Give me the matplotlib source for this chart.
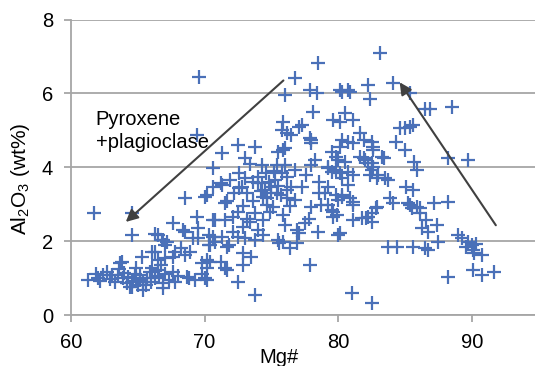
import matplotlib
matplotlib.use("Agg")
import matplotlib.pyplot as plt

plt.rcParams["font.family"] = ["Liberation Sans", "DejaVu Sans"]
plt.rcParams["mathtext.fontset"] = "custom"
plt.rcParams["mathtext.rm"] = "Liberation Sans"
plt.rcParams["mathtext.default"] = "regular"

# Mg# and Al2O3 (wt%), 10 points per row
mg = [
    61.3, 62.0, 62.4, 62.7, 63.1, 63.5, 63.9, 64.3, 64.6, 64.6,
    64.9, 65.2, 65.4, 65.7, 65.9, 66.3, 66.5, 66.9, 67.3, 67.8,
    67.6, 68.8, 70.0, 66.1, 66.7, 64.9, 63.8, 65.3, 66.3, 66.5,
    67.0, 67.6, 67.8, 68.2, 68.5, 68.9, 69.8, 70.2, 64.4, 65.4,
    66.9, 68.7, 70.2, 63.7, 66.1, 62.2, 62.9, 63.3, 64.0, 64.8,
    65.0, 65.6, 66.0, 65.2, 64.2, 66.6, 67.0, 68.0, 69.3, 69.8,
    61.9, 63.6, 64.6, 66.3, 66.8, 67.0, 68.5, 69.1, 69.5, 70.3,
    70.4, 66.5, 66.9, 67.2, 67.6, 68.4, 69.4, 70.6, 70.8, 71.2,
    71.5, 70.4, 69.5, 71.7, 68.5, 70.2, 70.6, 71.3, 71.5, 61.7,
    64.6, 69.6, 69.4, 71.3, 72.5, 73.8, 73.0, 73.4, 72.6, 74.3,
    75.4, 75.9, 76.0, 76.8, 78.0, 78.0, 79.5, 79.8, 80.1, 70.6,
    70.0, 71.2, 71.7, 72.8, 73.2, 74.0, 74.3, 74.5, 74.4, 74.7,
    75.0, 75.1, 74.9, 75.4, 76.2, 76.5, 76.2, 76.8, 77.3, 78.0,
    77.5, 78.5, 77.1, 75.5, 79.2, 79.0, 79.5, 79.6, 80.0, 80.0,
    80.3, 71.5, 72.1, 72.5, 72.9, 73.4, 73.8, 74.4, 74.0, 73.8,
    74.4, 70.8, 70.6, 71.3, 72.1, 72.5, 73.0, 70.3, 71.8, 75.8,
    76.2, 74.0, 74.7, 75.0, 75.3, 74.8, 75.5, 75.2, 74.6, 75.7,
    74.2, 73.6, 73.0, 72.2, 71.9, 72.9, 73.6, 75.9, 76.4, 73.2,
    72.6, 80.7, 81.1, 79.9, 75.6, 75.9, 76.4, 76.9, 77.9, 72.5,
    73.8, 81.0, 72.9, 73.5, 71.7, 70.2, 72.9, 78.5, 76.8, 76.0,
    77.9, 78.4, 80.3, 80.9, 78.1, 79.6, 80.1, 80.5, 81.1, 75.9,
    75.8, 76.2, 77.1, 77.3, 77.9, 80.3, 80.7, 81.1, 76.0, 75.5,
    79.8, 78.3, 79.2, 76.5, 78.0, 82.4, 84.6, 85.4, 84.3, 85.0,
    85.7, 85.9, 81.6, 81.9, 82.5, 82.6, 83.4, 80.0, 80.5, 81.9,
    82.2, 82.6, 79.2, 79.5, 80.1, 80.7, 81.1, 80.3, 82.5, 83.0,
    83.5, 78.6, 79.8, 80.3, 80.9, 81.1, 83.9, 84.1, 85.1, 85.6,
    85.4, 85.9, 86.1, 82.9, 82.5, 82.1, 81.8, 79.6, 79.2, 78.7,
    83.1, 84.1, 82.2, 80.1, 80.7, 85.4, 86.5, 86.9, 88.5, 85.0,
    85.6, 88.2, 89.7, 82.6, 83.3, 81.6, 82.0, 82.5, 82.4, 82.9,
    83.7, 85.2, 85.5, 86.1, 82.8, 82.2, 81.1, 82.5, 86.6, 86.3,
    86.7, 87.4, 87.2, 88.2, 83.7, 84.4, 85.6, 86.5, 86.7, 87.5,
    89.0, 89.3, 89.7, 90.0, 90.1, 90.2, 90.8, 89.6, 90.3, 90.1,
    90.8, 91.7, 88.2, 82.5, 80.1, 76.9, 76.0, 77.8, 78.6, 77.6,
]
al2o3 = [
    0.95, 1.0, 1.08, 1.16, 1.08, 1.08, 1.0, 1.03, 0.89, 0.76,
    1.0, 1.08, 0.89, 1.0, 1.16, 1.0, 1.22, 0.73, 0.95, 0.89,
    1.16, 1.0, 1.0, 1.27, 1.35, 1.27, 1.43, 1.57, 1.7, 1.49,
    1.54, 1.57, 1.7, 1.81, 1.62, 1.7, 1.41, 1.27, 0.76, 0.68,
    0.86, 1.03, 0.95, 1.4, 1.7, 0.92, 0.98, 0.9, 1.15, 1.12,
    0.82, 0.8, 0.9, 0.95, 0.88, 1.05, 1.1, 1.05, 0.95, 1.12,
    1.1, 1.25, 2.16, 2.2, 2.03, 1.9, 2.24, 2.08, 2.35, 2.16,
    1.9, 2.16, 2.03, 1.97, 2.49, 2.3, 2.65, 2.57, 1.97, 1.43,
    1.27, 1.43, 2.08, 1.84, 3.16, 3.24, 3.46, 3.51, 3.03, 2.75,
    2.76, 6.45, 4.86, 4.38, 4.6, 4.54, 4.24, 4.1, 3.84, 4.05,
    4.05, 4.46, 4.05, 3.92, 4.65, 4.05, 4.4, 3.92, 4.54, 3.97,
    3.19, 3.57, 3.1, 3.46, 3.3, 3.73, 3.57, 3.38, 3.19, 3.16,
    3.46, 2.92, 2.78, 3.3, 3.38, 3.46, 3.16, 3.11, 3.46, 2.92,
    2.49, 2.24, 2.22, 2.03, 3.46, 3.3, 2.84, 2.65, 3.11, 2.16,
    3.24, 2.57, 2.65, 2.78, 2.38, 2.51, 2.76, 2.57, 2.3, 2.03,
    2.16, 2.57, 2.11, 2.11, 2.24, 2.11, 2.08, 1.89, 1.89, 3.84,
    3.73, 3.57, 2.97, 3.3, 3.65, 3.6, 3.5, 3.9, 3.85, 3.25,
    3.35, 3.6, 3.7, 3.3, 3.65, 2.95, 3.1, 2.7, 2.95, 2.6,
    3.43, 3.51, 3.05, 2.7, 1.95, 1.97, 1.81, 1.95, 1.35, 0.89,
    0.54, 0.59, 1.68, 1.57, 1.22, 1.49, 1.35, 6.81, 6.43, 5.95,
    6.08, 6.0, 6.03, 6.03, 5.49, 5.27, 5.22, 5.46, 5.27, 5.22,
    5.0, 4.92, 5.08, 5.14, 4.78, 4.73, 4.68, 4.65, 4.51, 4.4,
    4.27, 4.19, 4.0, 4.86, 4.73, 5.86, 5.05, 5.08, 4.68, 4.46,
    4.14, 3.92, 4.92, 4.73, 4.68, 4.46, 4.24, 4.19, 4.14, 4.24,
    4.11, 4.0, 3.97, 3.86, 3.84, 3.86, 3.78, 3.7, 3.92, 3.78,
    3.7, 3.59, 3.24, 3.19, 3.16, 2.97, 3.16, 3.03, 3.46, 3.38,
    2.97, 2.92, 2.76, 2.92, 2.76, 2.62, 2.62, 2.78, 2.97, 2.97,
    7.08, 6.27, 6.22, 6.08, 6.08, 6.0, 5.59, 5.59, 5.62, 5.05,
    5.14, 4.24, 4.19, 4.54, 4.27, 4.27, 4.19, 4.11, 3.78, 3.7,
    3.65, 3.03, 2.89, 2.89, 2.89, 2.65, 2.57, 2.51, 2.57, 2.35,
    2.24, 2.43, 3.03, 3.05, 1.84, 1.84, 1.84, 1.81, 1.76, 1.97,
    2.16, 2.08, 1.97, 1.89, 1.76, 1.68, 1.62, 1.84, 1.92, 1.22,
    1.08, 1.16, 1.03, 0.32, 2.22, 2.3, 2.45, 2.6, 3.3, 3.8,
]

x_ticks = [60, 70, 80, 90]
y_ticks = [0, 2, 4, 6, 8]

fig = plt.figure(figsize=(5.35, 3.66), dpi=100)
ax = fig.add_axes([0.1327, 0.1393, 0.874, 0.8074])

ax.plot(mg, al2o3, linestyle="none", marker="+", markersize=10,
        markeredgewidth=1.6, color="#4a70b8", zorder=3)

ax.set_xlim(60, 95)
ax.set_ylim(0, 8)
ax.set_xticks(x_ticks)
ax.set_yticks(y_ticks)
ax.yaxis.grid(True, color="#a6a6a6", linewidth=1.3)
ax.set_axisbelow(True)
for side in ["top", "right"]:
    ax.spines[side].set_visible(False)
for side in ["left", "bottom"]:
    ax.spines[side].set_color("#a6a6a6")
    ax.spines[side].set_linewidth(1.3)
ax.tick_params(axis="both", colors="#a6a6a6", labelcolor="black",
               labelsize=14.5, length=5, width=1.3)
ax.tick_params(axis="x", pad=8)
ax.tick_params(axis="y", pad=8)

ax.set_xlabel("Mg#", fontsize=14.5)
ax.xaxis.set_label_coords(0.444, -0.113)
ax.set_ylabel("Al$_2$O$_3$ (wt%)", fontsize=15)
ax.yaxis.set_label_coords(-0.084, 0.46)

arrow = dict(arrowstyle="-|>", color="#404040", lw=1.5, mutation_scale=18,
             shrinkA=0, shrinkB=0)
ax.annotate("", xy=(64.1, 2.52), xytext=(75.9, 6.35), arrowprops=arrow)
ax.annotate("", xy=(84.6, 6.3), xytext=(91.8, 2.43), arrowprops=arrow)

ax.text(61.85, 5.55, "Pyroxene\n+plagioclase", fontsize=14.5, va="top",
        ha="left", linespacing=1.25)

fig.savefig("out.png", dpi=100)
